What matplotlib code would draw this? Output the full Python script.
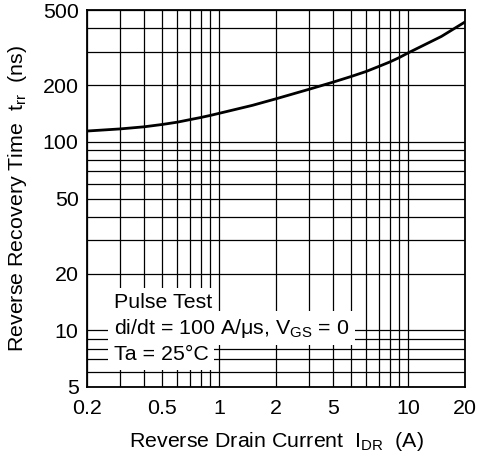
import matplotlib
matplotlib.use("Agg")
import matplotlib.pyplot as plt
from matplotlib.ticker import FixedLocator, FixedFormatter, NullFormatter

plt.rcParams['font.family'] = ['Liberation Sans', 'DejaVu Sans']
plt.rcParams['mathtext.fontset'] = 'custom'
plt.rcParams['mathtext.rm'] = 'Liberation Sans'
plt.rcParams['mathtext.it'] = 'Liberation Sans:italic'

# data
current_a = [0.2, 0.3, 0.4, 0.5, 0.6, 0.7, 0.8, 0.9, 1, 1.5, 2, 3, 4, 5, 6, 7, 8, 9, 10, 15, 20]
trr_ns = [114, 117, 120, 123.5, 127, 131, 134.5, 138, 141.5, 156, 169, 190, 207, 222, 236, 251, 265, 280, 296, 362, 432]

x_tick_pos = [0.2, 0.5, 1, 2, 4, 10, 20]
x_tick_labels = ["0.2", "0.5", "1", "2", "5", "10", "20"]
x_grid_minor = [0.3, 0.4, 0.6, 0.7, 0.8, 0.9, 3, 5, 6, 7, 8, 9]
y_tick_pos = [5, 10, 20, 50, 100, 200, 500]
y_tick_labels = ["5", "10", "20", "50", "100", "200", "500"]
y_grid_minor = [6, 7, 8, 9, 30, 40, 60, 70, 80, 90, 300, 400]

FS = 15.4

fig = plt.figure(figsize=(4.78, 4.62), dpi=100)
ax = fig.add_axes([87/478, 75/462, 378/478, 377/462])
ax.set_xscale('log')
ax.set_yscale('log')
ax.set_xlim(0.2, 20)
ax.set_ylim(5, 500)

ax.xaxis.set_major_locator(FixedLocator(x_tick_pos))
ax.xaxis.set_major_formatter(FixedFormatter(x_tick_labels))
ax.xaxis.set_minor_locator(FixedLocator(x_grid_minor))
ax.xaxis.set_minor_formatter(NullFormatter())
ax.yaxis.set_major_locator(FixedLocator(y_tick_pos))
ax.yaxis.set_major_formatter(FixedFormatter(y_tick_labels))
ax.yaxis.set_minor_locator(FixedLocator(y_grid_minor))
ax.yaxis.set_minor_formatter(NullFormatter())

ax.grid(True, which='both', color='black', linewidth=0.9)
ax.set_axisbelow(True)
ax.tick_params(which='both', length=0)
ax.tick_params(axis='x', pad=9, labelsize=FS)
ax.tick_params(axis='y', pad=6, labelsize=FS)
for s in ax.spines.values():
    s.set_linewidth(1.3)

ax.plot(current_a, trr_ns, color='black', linewidth=2.0, zorder=3,
        solid_joinstyle='round')

ax.set_xlabel('Reverse Drain Current  I$_{\\mathrm{DR}}$  (A)', fontsize=FS, labelpad=8)
ax.set_ylabel('Reverse Recovery Time  t$_{\\mathrm{rr}}$  (ns)', fontsize=FS, labelpad=10)

bb = dict(facecolor='white', edgecolor='none', pad=4)
ax.text(0.071, 0.223, 'Pulse Test', transform=ax.transAxes, fontsize=FS,
        va='center', ha='left', bbox=bb, zorder=4)
ax.text(0.071, 0.156, 'di/dt = 100 A/μs, V$_{\\mathrm{GS}}$ = 0', transform=ax.transAxes,
        fontsize=FS, va='center', ha='left', bbox=bb, zorder=4)
ax.text(0.071, 0.085, 'Ta = 25°C', transform=ax.transAxes, fontsize=FS,
        va='center', ha='left', bbox=bb, zorder=4)

fig.savefig('out.png', dpi=100)
